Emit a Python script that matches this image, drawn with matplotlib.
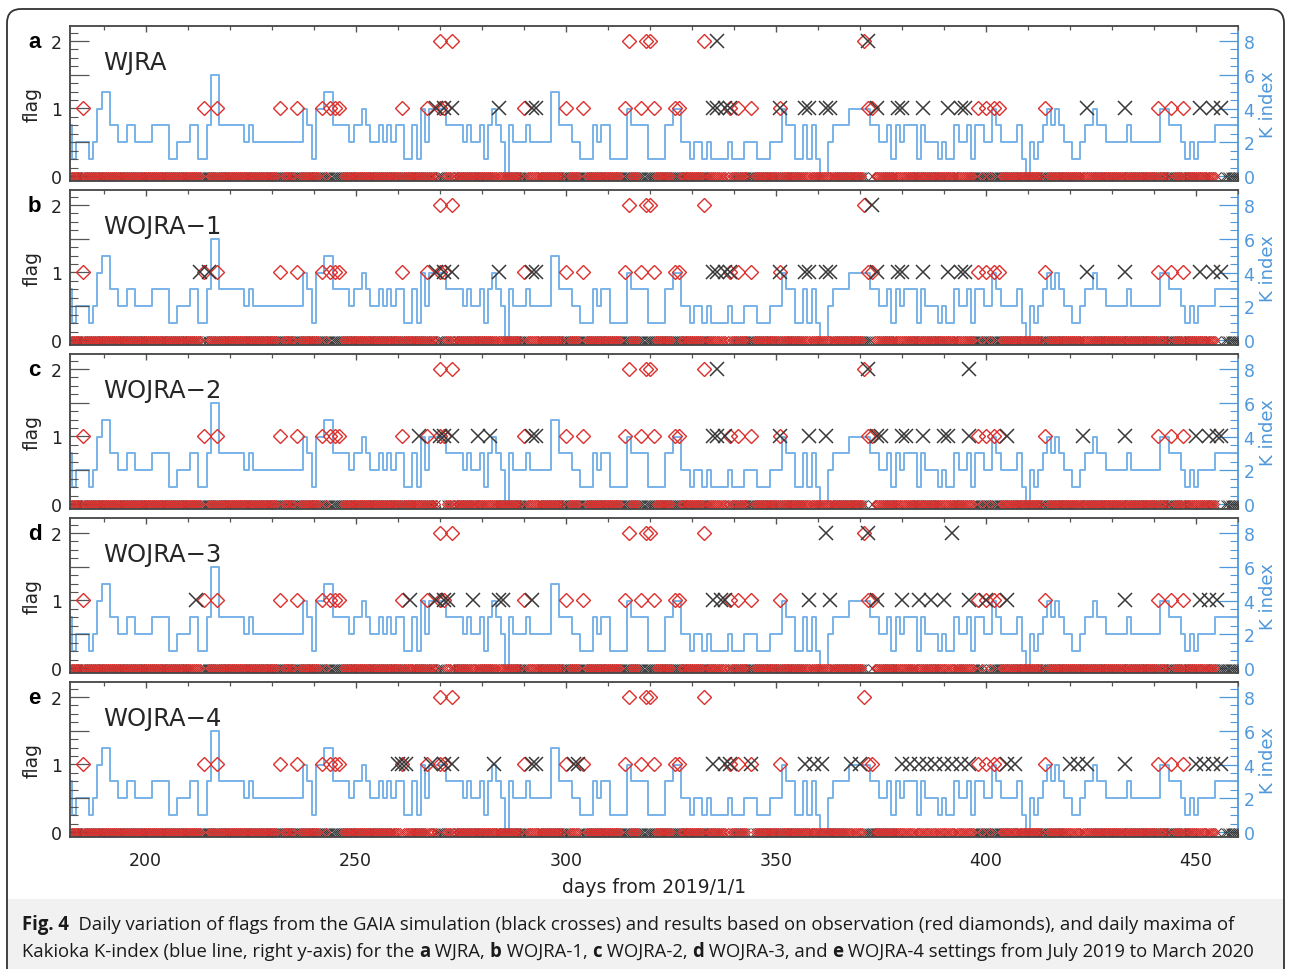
import numpy as np
import matplotlib
matplotlib.use('Agg')
import matplotlib.pyplot as plt
from matplotlib.patches import FancyBboxPatch, Rectangle
from matplotlib.ticker import MultipleLocator, FixedLocator
from matplotlib.transforms import IdentityTransform

W, H, DPI = 1290, 970, 100

# daily maxima of the Kakioka K-index, days 182..460 (days from 2019/1/1)
days = np.arange(182, 461)
k_max = [3, 1, 2, 2, 2, 1, 2, 4, 5, 5,
         3, 3, 2, 2, 3, 3, 2, 2, 2, 2,
         3, 3, 3, 3, 1, 1, 2, 2, 2, 3,
         3, 1, 1, 3, 6, 6, 3, 3, 3, 3,
         3, 3, 2, 3, 2, 2, 2, 2, 2, 2,
         2, 2, 2, 2, 2, 2, 4, 3, 1, 4,
         4, 5, 5, 3, 3, 3, 3, 2, 3, 3,
         4, 3, 2, 2, 3, 2, 3, 2, 3, 3,
         1, 1, 3, 1, 4, 2, 4, 4, 4, 4,
         3, 3, 3, 3, 2, 3, 2, 2, 3, 1,
         3, 4, 3, 2, 0, 3, 2, 2, 2, 3,
         2, 2, 2, 2, 2, 5, 5, 3, 3, 3,
         2, 2, 1, 1, 1, 3, 2, 3, 3, 1,
         1, 1, 1, 4, 3, 3, 3, 3, 1, 1,
         1, 1, 3, 3, 4, 4, 2, 2, 1, 2,
         2, 1, 2, 1, 1, 1, 1, 2, 1, 1,
         1, 2, 2, 2, 1, 1, 1, 2, 2, 2,
         4, 3, 3, 1, 1, 3, 1, 3, 1, 0,
         0, 2, 3, 3, 3, 3, 4, 4, 4, 4,
         4, 3, 3, 2, 2, 3, 1, 3, 2, 3,
         3, 3, 1, 3, 2, 2, 2, 1, 2, 1,
         1, 3, 2, 2, 3, 1, 3, 3, 2, 2,
         4, 3, 2, 2, 2, 2, 3, 1, 0, 2,
         1, 2, 3, 4, 3, 4, 3, 2, 2, 1,
         1, 2, 3, 3, 4, 3, 3, 2, 2, 2,
         2, 2, 3, 2, 2, 2, 2, 2, 2, 2,
         4, 4, 3, 3, 3, 2, 1, 2, 1, 2,
         2, 2, 2, 3, 3, 3, 3, 3, 3]

# observation flags (red diamonds), same in every panel
obs_flag1 = [185, 214, 217, 232, 236, 242, 244, 245, 246, 261, 267, 270, 271,
             290, 300, 304, 314, 318, 321, 326, 327, 339, 341, 344, 351, 372,
             373, 398, 400, 402, 403, 414, 441, 444, 447]
obs_flag2 = [270, 273, 315, 319, 320, 333, 371]
obs_last = 454.5

# GAIA simulation flags (black crosses)
sim_a1 = [269, 271, 273, 284, 292, 293, 335, 336, 338, 339, 351, 357, 358, 362,
          363, 374, 379, 380, 385, 391, 394, 395, 424, 433, 451, 454, 456]
sim_a2 = [336, 372]
sim_b1 = [213, 215, 269, 271, 273, 284, 292, 293, 335, 336, 338, 339, 351, 357,
          358, 362, 363, 374, 379, 380, 385, 391, 394, 395, 424, 433, 451, 454, 456]
sim_b2 = [373]
sim_c1 = [265, 270, 271, 273, 279, 282, 292, 293, 335, 336, 338, 351, 358, 362,
          374, 375, 380, 381, 385, 390, 391, 396, 405, 423, 433, 450, 453, 455, 456]
sim_c2 = [336, 372, 396]
sim_d1 = [212, 263, 269, 271, 272, 278, 284, 285, 292, 335, 337, 338, 358, 363,
          374, 380, 384, 387, 390, 396, 400, 405, 433, 451, 453, 455]
sim_d2 = [362, 372, 392]
sim_e1 = [260, 261, 262, 268, 271, 273, 283, 292, 293, 302, 303, 335, 338, 339,
          344, 357, 359, 361, 368, 370, 380, 382, 384, 386, 388, 390, 392, 394,
          396, 405, 407, 420, 422, 424, 433, 450, 452, 454, 456]
sim_e2 = []

letters = ['a', 'b', 'c', 'd', 'e']
names = ['WJRA', 'WOJRA\u22121', 'WOJRA\u22122', 'WOJRA\u22123', 'WOJRA\u22124']
sims1 = [sim_a1, sim_b1, sim_c1, sim_d1, sim_e1]
sims2 = [sim_a2, sim_b2, sim_c2, sim_d2, sim_e2]

RED = '#dc2f2c'
BLK = '#383838'
KLINE = '#78b2e8'
KAX = '#4f98dc'

fig = plt.figure(figsize=(W / DPI, H / DPI), dpi=DPI)

def fx(px):
    return px / W

def fy(py):
    return 1 - py / H

x0, x1 = 70, 1238
top0, ph, pitch = 27, 155, 164
band = np.arange(182, 460.01, 0.5)

for i in range(5):
    top = top0 + pitch * i
    ax = fig.add_axes([fx(x0), fy(top + ph), fx(x1 - x0), ph / H])
    axk = ax.twinx()
    ax.set_zorder(axk.get_zorder() + 1)
    ax.patch.set_visible(False)

    ax.set_xlim(182, 460)
    ax.set_ylim(-0.074, 2.222)
    axk.set_ylim(-0.296, 8.889)

    axk.plot(days, k_max, drawstyle='steps-mid', color=KLINE, lw=1.4)

    # flag 0 band
    s_all = sims1[i] + sims2[i]
    sim0 = band[~np.isin(np.round(band), s_all)]
    obs0 = band[(band <= obs_last) & ~np.isin(np.round(band), obs_flag1 + obs_flag2)]
    ax.plot(sim0, np.zeros(len(sim0)), 'x', ms=5.5, mew=0.7, color=BLK)
    ax.plot(obs0, np.zeros(len(obs0)), 'D', ms=4.5, mew=0.8, mfc='none', mec=RED)

    ax.plot(obs_flag1, np.ones(len(obs_flag1)), 'D', ms=7.3, mew=1.0, mfc='none', mec=RED)
    ax.plot(obs_flag2, 2 * np.ones(len(obs_flag2)), 'D', ms=7.3, mew=1.0, mfc='none', mec=RED)
    ax.plot(sims1[i], np.ones(len(sims1[i])), 'x', ms=10.5, mew=1.1, color=BLK)
    if sims2[i]:
        ax.plot(sims2[i], 2 * np.ones(len(sims2[i])), 'x', ms=10.5, mew=1.1, color=BLK)

    # spines
    ax.spines['right'].set_visible(False)
    for s in ['left', 'top', 'bottom']:
        axk.spines[s].set_visible(False)
        ax.spines[s].set_color('#444444')
        ax.spines[s].set_linewidth(1.3)
    axk.spines['right'].set_color(KAX)
    axk.spines['right'].set_linewidth(1.3)

    # x ticks
    ax.xaxis.set_major_locator(MultipleLocator(50))
    ax.xaxis.set_minor_locator(MultipleLocator(10))
    ax.tick_params(axis='x', which='both', direction='in', top=True, bottom=True,
                   colors='#555555', labelcolor='#222222', labelsize=12.5, pad=10)
    ax.tick_params(axis='x', which='major', length=4.5, width=1)
    ax.tick_params(axis='x', which='minor', length=3, width=0.9)
    if i < 4:
        ax.tick_params(axis='x', labelbottom=False)

    # left flag axis
    ax.yaxis.set_major_locator(FixedLocator([0, 0.5, 1, 1.5, 2]))
    ax.set_yticklabels(['0', '', '1', '', '2'])
    ax.yaxis.set_minor_locator(MultipleLocator(0.125))
    ax.tick_params(axis='y', which='both', direction='in', left=True, right=False,
                   colors='#555555', labelcolor='#222222', labelsize=12.5, pad=6)
    ax.tick_params(axis='y', which='major', length=14, width=0.9)
    ax.tick_params(axis='y', which='minor', length=6, width=0.8)

    # right K axis
    axk.yaxis.set_major_locator(MultipleLocator(2))
    axk.yaxis.set_minor_locator(MultipleLocator(0.5))
    axk.tick_params(axis='y', which='both', direction='in', colors=KAX,
                    labelsize=12.5, pad=4)
    axk.tick_params(axis='y', which='major', length=14, width=0.9)
    axk.tick_params(axis='y', which='minor', length=6, width=0.8)

    # panel texts
    fig.text(fx(103), fy(top + 43), names[i], fontsize=17.5, color='#262626',
             va='baseline', ha='left')
    fig.text(fx(28), fy(top + 21), letters[i], fontsize=16, fontweight='bold',
             family='Liberation Sans', va='baseline', ha='left')
    fig.text(fx(32), fy(top + 78), 'flag', fontsize=13.5, rotation=90,
             color='#222222', va='center', ha='center')
    fig.text(fx(1268), fy(top + 78), 'K index', fontsize=13, rotation=90,
             color=KAX, va='center', ha='center')

fig.text(fx(654), fy(888), 'days from 2019/1/1', fontsize=13.5, color='#222222',
         va='center', ha='center')

# caption area and figure border
fig.patches.append(Rectangle((8, 0), 1276, 70, transform=IdentityTransform(),
                             facecolor='#f1f1f1', edgecolor='none', zorder=-5))
fig.patches.append(FancyBboxPatch((7, -30), 1277, H - 10 + 30,
                                  boxstyle='round,pad=0,rounding_size=14',
                                  transform=IdentityTransform(),
                                  facecolor='none', edgecolor='#333333', lw=1.3))

CAP_FONT = 'Open Sans'
line1 = [('Fig. 4', True),
         ('  Daily variation of flags from the GAIA simulation (black crosses) and results based on observation (red diamonds), and daily maxima of', False)]
line2 = [('Kakioka K-index (blue line, right y-axis) for the ', False), ('a', True),
         (' WJRA, ', False), ('b', True), (' WOJRA-1, ', False), ('c', True),
         (' WOJRA-2, ', False), ('d', True), (' WOJRA-3, and ', False), ('e', True),
         (' WOJRA-4 settings from July 2019 to March 2020', False)]

renderer = fig.canvas.get_renderer()

def draw_runs(runs, xs, ys, size):
    x = xs
    texts = []
    for s, bold in runs:
        t = fig.text(fx(x), fy(ys), s, fontsize=size, family=CAP_FONT,
                     fontweight='bold' if bold else 'normal', color='#1a1a1a',
                     va='baseline', ha='left')
        x += t.get_window_extent(renderer=renderer).width
        texts.append(t)
    return x, texts

end, tmp = draw_runs(line1, 22, 930, 12)
for t in tmp:
    t.remove()
cap_size = 12 * (1232 - 22) / (end - 22)
draw_runs(line1, 22, 930, cap_size)
draw_runs(line2, 22, 957, cap_size)

fig.savefig('out.png', dpi=DPI)
